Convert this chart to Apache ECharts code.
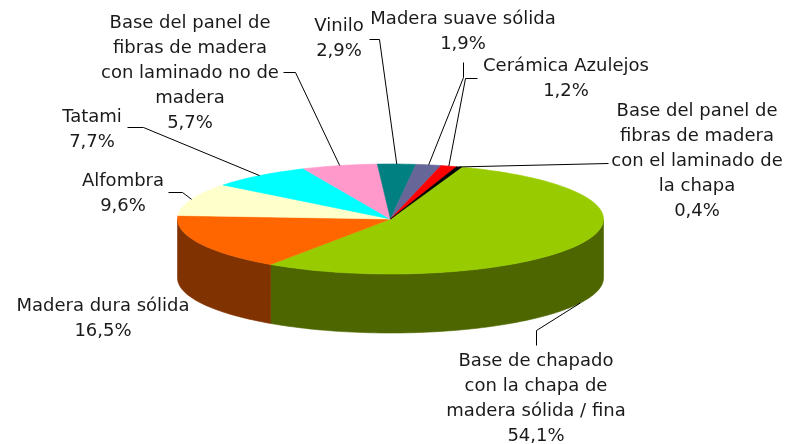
<!DOCTYPE html>
<html>
<head>
<meta charset="utf-8">
<script src="https://cdn.jsdelivr.net/npm/echarts@6/dist/echarts.min.js"></script>
<style>
  html, body { margin: 0; padding: 0; background: #fff; }
  #chart { width: 787px; height: 444px; }
</style>
</head>
<body>
<div id="chart"></div>
<script>
// Slice names (line breaks as drawn) and their shares in percent, clockwise order
const categories = [
  'Base de chapado\ncon la chapa de\nmadera sólida / fina',
  'Madera dura sólida',
  'Alfombra',
  'Tatami',
  'Base del panel de\nfibras de madera\ncon laminado no de\nmadera',
  'Vinilo',
  'Madera suave sólida',
  'Cerámica Azulejos',
  'Base del panel de\nfibras de madera\ncon el laminado de\nla chapa'
];
const shares = [54.1, 16.5, 9.6, 7.7, 5.7, 2.9, 1.9, 1.2, 0.4];

// Slice colours (top face)
const colors = ['#99CC00', '#FF6600', '#FFFFCC', '#00FFFF', '#FF99CC', '#008080', '#666699', '#FF0000', '#000000'];

// Pie geometry: ellipse centre, radii, wall depth, first slice start (deg clockwise from 12 o'clock)
const CX = 390.5, CY = 219, RX = 213, RY = 55, DEPTH = 59, START = 19.5;

// Label placement: text centre x, top y of the block, leader elbow points (label side first)
const labelLayout = [
  { x: 536, y: 349, leader: [[536, 345], [536, 330]] },
  { x: 103, y: 294, leader: null },
  { x: 123, y: 169, leader: [[168, 192], [182, 192]] },
  { x: 92,  y: 105, leader: [[127, 127], [143, 127]] },
  { x: 190, y: 11,  leader: [[283, 72], [295, 72]] },
  { x: 339, y: 14,  leader: [[369, 39], [379, 39]] },
  { x: 463, y: 7,   leader: [[463, 62], [463, 77]] },
  { x: 566, y: 54,  leader: [[477, 78], [465, 78]] },
  { x: 697, y: 99,  leader: [[608, 163]] }
];

const total = shares.reduce((a, b) => a + b, 0);

function shade(hex, f) {
  const n = parseInt(hex.slice(1), 16);
  const r = Math.round(((n >> 16) & 255) * f);
  const g = Math.round(((n >> 8) & 255) * f);
  const b = Math.round((n & 255) * f);
  return 'rgb(' + r + ',' + g + ',' + b + ')';
}

function rimPoint(deg, dz) {
  const r = deg * Math.PI / 180;
  return [CX + RX * Math.sin(r), CY - RY * Math.cos(r) + dz];
}

function arc(a0, a1, dz) {
  const pts = [];
  const steps = Math.max(2, Math.ceil((a1 - a0) / 1.5));
  for (let s = 0; s <= steps; s++) pts.push(rimPoint(a0 + (a1 - a0) * s / steps, dz));
  return pts;
}

function fmt(v) { return v.toFixed(1).replace('.', ',') + '%'; }

const chart = echarts.init(document.getElementById('chart'), null, { renderer: 'canvas' });

chart.setOption({
  animation: false,
  backgroundColor: '#ffffff',
  series: [{
    type: 'custom',
    coordinateSystem: 'none',
    data: shares.map((v, i) => ({ value: v, name: categories[i] })),
    renderItem: function (params, api) {
      const i = params.dataIndex;
      let before = 0;
      for (let k = 0; k < i; k++) before += shares[k];
      const a0 = START + before / total * 360;
      const a1 = a0 + api.value(0) / total * 360;
      const col = colors[i];
      const children = [];

      // Front wall: only the part of the rim facing the viewer (90°..270°)
      const s0 = Math.max(a0, 90), s1 = Math.min(a1, 270);
      if (s1 > s0) {
        const upper = arc(s0, s1, 0);
        const lower = arc(s0, s1, DEPTH).reverse();
        const sc = shade(col, 0.5);
        children.push({
          type: 'polygon', z2: 1,
          shape: { points: upper.concat(lower) },
          style: { fill: sc, stroke: sc, lineWidth: 0.6 }
        });
      }

      // Top face
      children.push({
        type: 'polygon', z2: 2,
        shape: { points: [[CX, CY]].concat(arc(a0, a1, 0)) },
        style: { fill: col, stroke: col, lineWidth: 0.6 }
      });

      // Leader line from label to the rim at the slice's middle angle
      const lay = labelLayout[i];
      if (lay.leader) {
        const mid = (a0 + a1) / 2;
        const m = ((mid % 360) + 360) % 360;
        const front = m > 90 && m < 270;
        const end = rimPoint(mid, front ? DEPTH : 0);
        const elbows = lay.leader.map(p => [p[0] + 0.5, p[1] + 0.5]);
        children.push({
          type: 'polyline', z2: 5,
          shape: { points: elbows.concat([end]) },
          style: { stroke: '#000000', lineWidth: 1, fill: null }
        });
      }

      // Label text: name and percentage
      children.push({
        type: 'text', z2: 6,
        style: {
          text: categories[i] + '\n' + fmt(api.value(0)),
          x: lay.x, y: lay.y,
          align: 'center', verticalAlign: 'top',
          fontFamily: '"DejaVu Sans", Verdana, sans-serif',
          fontSize: 18, lineHeight: 25,
          fill: '#1a1a1a'
        }
      });

      return { type: 'group', children: children };
    }
  }]
});
</script>
</body>
</html>
